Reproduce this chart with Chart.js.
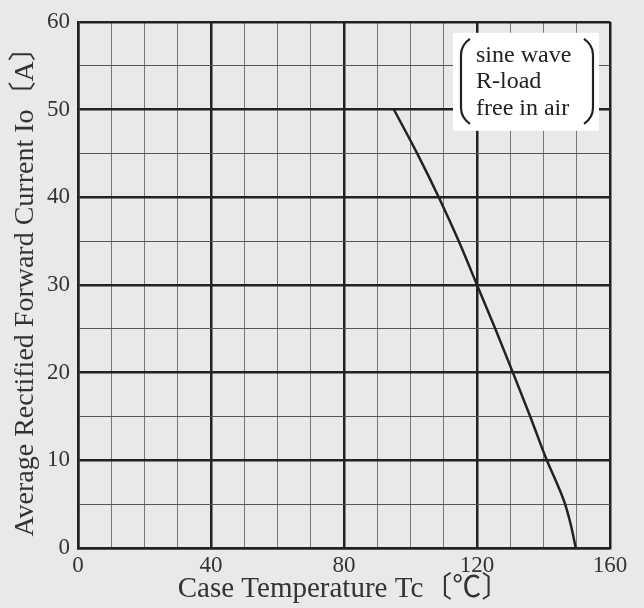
<!DOCTYPE html>
<html>
<head>
<meta charset="utf-8">
<script src="https://cdn.jsdelivr.net/npm/chart.js@4.4.1/dist/chart.umd.min.js"></script>
<style>
  html, body { margin: 0; padding: 0; background: #e9e9e9; }
  #wrap { width: 644px; height: 608px; }
</style>
</head>
<body>
<div id="wrap"><canvas id="derating"></canvas></div>
<script>
// case temperature [C] vs average rectified forward current [A]
const caseTemp = [95, 102, 108.5, 114.5, 120, 125.5, 130.8, 136, 141, 143.9, 146.5, 148.3, 149.7];
const forwardCurrent = [50, 45, 40, 35, 30, 25, 20, 15, 10, 7.5, 5, 2.5, 0];

const xMajor = [0, 40, 80, 120, 160];
const yMajor = [0, 10, 20, 30, 40, 50, 60];
const noteLines = ["sine wave", "R-load", "free in air"];

const serif = '"Liberation Serif", "Noto Sans CJK JP", serif';
const ink = "#222";

const points = caseTemp.map((x, i) => ({ x, y: forwardCurrent[i] }));

// condition note with tortoise-shell brackets in the upper right corner
const notePlugin = {
  id: "note",
  afterDatasetsDraw(chart) {
    const { ctx, chartArea } = chart;
    const left = chartArea.right - 157;
    const top = chartArea.top + 11;
    ctx.save();
    ctx.fillStyle = "#fff";
    ctx.fillRect(left, top, 146, 98);

    ctx.fillStyle = ink;
    ctx.font = "24px " + serif;
    ctx.textBaseline = "alphabetic";
    noteLines.forEach((line, i) => {
      ctx.fillText(line, left + 23, top + 29 + i * 26.5);
    });

    ctx.strokeStyle = ink;
    ctx.lineWidth = 2.2;
    const bl = left + 8, br = left + 140, bt = top + 6, bb = top + 91;
    ctx.beginPath();
    ctx.moveTo(bl + 9, bt);
    ctx.quadraticCurveTo(bl, bt + 6, bl, bt + 16);
    ctx.lineTo(bl, bb - 16);
    ctx.quadraticCurveTo(bl, bb - 6, bl + 9, bb);
    ctx.stroke();
    ctx.beginPath();
    ctx.moveTo(br - 9, bt);
    ctx.quadraticCurveTo(br, bt + 6, br, bt + 16);
    ctx.lineTo(br, bb - 16);
    ctx.quadraticCurveTo(br, bb - 6, br - 9, bb);
    ctx.stroke();
    ctx.restore();
  }
};

const gridWidth = (major) => (c) => (c.tick && major.includes(c.tick.value) ? 2.5 : 1);
const gridColor = (major, minor) => (c) => (c.tick && major.includes(c.tick.value) ? ink : minor);

new Chart(document.getElementById("derating"), {
  type: "line",
  data: {
    datasets: [{
      data: points,
      borderColor: ink,
      borderWidth: 2.5,
      pointRadius: 0,
      fill: false,
      cubicInterpolationMode: "monotone"
    }]
  },
  options: {
    responsive: true,
    maintainAspectRatio: false,
    animation: false,
    layout: { padding: { top: 16, right: 34, left: 0, bottom: 0 } },
    plugins: {
      legend: { display: false },
      tooltip: { enabled: false }
    },
    scales: {
      x: {
        type: "linear",
        min: 0,
        max: 160,
        afterFit: (s) => { s.height = 60; },
        ticks: {
          stepSize: 10,
          autoSkip: false,
          maxRotation: 0,
          padding: 4,
          color: "#333",
          font: { family: serif, size: 23 },
          callback: (v) => (xMajor.includes(v) ? String(v) : "")
        },
        grid: {
          drawTicks: false,
          color: gridColor(xMajor, "#777"),
          lineWidth: gridWidth(xMajor)
        },
        border: { color: ink, width: 2.5 },
        title: {
          display: true,
          text: "Case Temperature Tc〔℃〕",
          color: "#333",
          font: { family: serif, size: 29 },
          padding: { top: 0, bottom: 1 }
        }
      },
      y: {
        min: 0,
        max: 60,
        afterFit: (s) => { s.width = 78; },
        ticks: {
          stepSize: 5,
          autoSkip: false,
          padding: 8,
          color: "#333",
          font: { family: serif, size: 23 },
          callback: (v) => (yMajor.includes(v) ? String(v) : "")
        },
        grid: {
          drawTicks: false,
          color: gridColor(yMajor, "#555"),
          lineWidth: gridWidth(yMajor)
        },
        border: { color: ink, width: 2.5 },
        title: {
          display: true,
          text: "Average Rectified Forward Current Io〔A〕",
          color: "#333",
          font: { family: serif, size: 28 },
          padding: { top: 9, bottom: 0 }
        }
      }
    }
  },
  plugins: [notePlugin]
});
</script>
</body>
</html>
